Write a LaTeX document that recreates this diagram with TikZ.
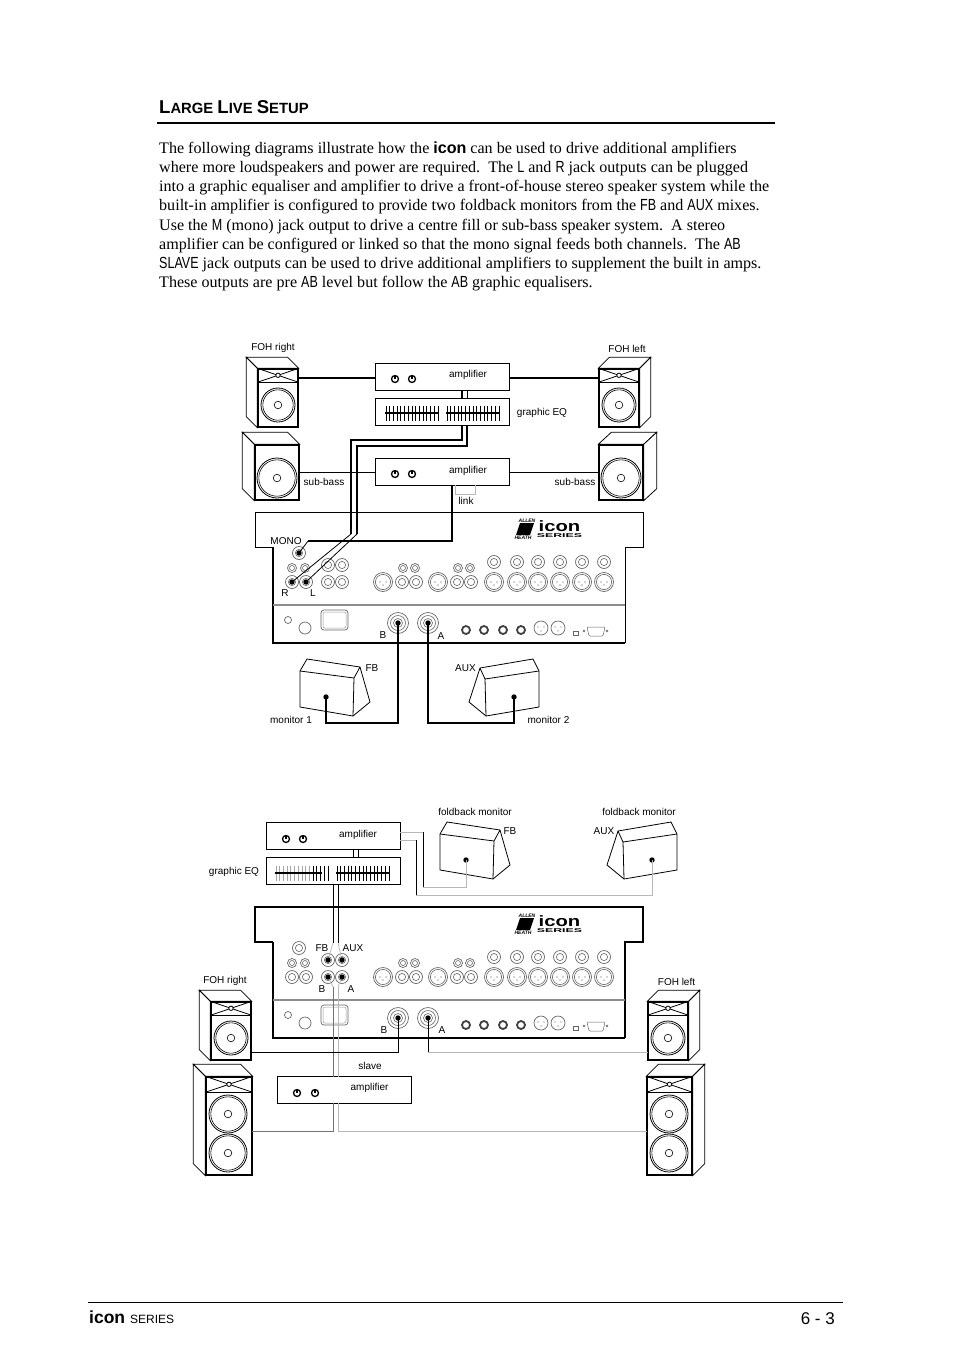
\documentclass[tikz,border=0pt]{standalone}
\usepackage{fontspec}
\setmainfont{Liberation Serif}
\setsansfont{Liberation Sans}
\newfontfamily\narrowsf[FakeStretch=0.78]{Liberation Sans}
\newfontfamily\logosf[FakeStretch=1.35]{Liberation Sans}
\newfontfamily\logowide[FakeStretch=2.2]{Liberation Sans}
\usepackage{tikz}

\tikzset{
  bodyline/.style={anchor=base west, inner sep=0pt, font=\fontsize{16.08}{19}\selectfont},
  lbl/.style={inner sep=0pt, yshift=-1pt, font=\sffamily\fontsize{10}{12}\selectfont},
  unitbox/.style={draw, fill=white, line width=0.8pt, inner sep=0pt, minimum width=134pt, minimum height=27pt},
  spkfront/.style={draw, fill=white, line width=1.4pt, inner sep=0pt},
  spkside/.style={line width=0.8pt},
  jack/.style={circle, draw=black!60, line width=0.7pt, inner sep=0pt, minimum size=#1},
  jack/.default=13pt,
  ring/.style={draw=black!60, line width=0.6pt},
  wirethick/.style={line width=1.7pt},
  wiremon/.style={line width=1.1pt},
  wirethin/.style={line width=0.8pt},
  wiregray/.style={draw=black!55, line width=0.7pt},
  wirefaint/.style={draw=black!28, line width=0.7pt},
  mixthick/.style={line width=1.3pt}
}

% cabinet: name, centre x, y, width, height, offset x, y, open side
\newcommand\cabinet[8]{
  \node[spkfront, minimum width=#4pt, minimum height=#5pt] (#1) at (#2,#3) {};
  \draw[spkside, fill=white] (#1.north west) -- ++(#6,#7) -- ([shift={(#6,#7)}]#1.north east) -- (#1.north east) -- cycle;
  \draw[spkside, fill=white] (#1.north #8) -- ++(#6,#7) -- ([shift={(#6,#7)}]#1.south #8) -- (#1.south #8) -- cycle;
  \node[spkfront, minimum width=#4pt, minimum height=#5pt] at (#2,#3) {};
}
% horn panel: cabinet name, panel height
\newcommand\horn[2]{
  \draw[spkside] (#1.north west) -- ([yshift=-#2pt]#1.north east)
    (#1.north east) -- ([yshift=-#2pt]#1.north west);
  \draw[line width=1.4pt] ([yshift=-#2pt]#1.north west) -- ([yshift=-#2pt]#1.north east);
  \draw[spkside, fill=white] ([yshift=-#2pt/2]#1.north) circle (2.2pt);
}
\newcommand\woofer[3]{
  \draw[line width=0.8pt] (#1,#2) circle (#3pt);
  \draw[line width=0.6pt] (#1,#2) circle (#3pt-1.8pt);
  \draw[line width=0.6pt] (#1,#2) circle (3.8pt);
}
\newcommand\knob[2]{
  \draw[line width=1.3pt] (#1,#2) circle (3.5pt);
  \draw[line width=1.1pt] (#1,#2) -- ++(0,-3.5);
}
% fader bank
\newcommand\faders[2]{
  \foreach \i in {0,...,14}
    \draw[line width=1pt] (#1+\i*3.72,#2-7.5) -- ++(0,15);
  \draw[line width=1.8pt] (#1-1,#2) -- ++(54,0);
}
\newcommand\dotat[1]{\fill (#1) circle (2.7pt);}

% wedge with the slope on the right
\newcommand\wedgeR[3]{
  \begin{scope}[shift={(#2,#3)}]
    \draw[line width=0.8pt, fill=white] (300,671) -- (307,659) -- (360,667)
      -- (370,702) -- (353,716) -- (300,707) -- cycle;
    \draw[line width=0.8pt] (300,671) -- (354,678) -- (353,716) (354,678) -- (360,667);
    \coordinate (#1) at (326,697);
    \dotat{#1}
  \end{scope}
}
% wedge with the slope on the left
\newcommand\wedgeL[3]{
  \begin{scope}[shift={(#2,#3)}]
    \draw[line width=0.8pt, fill=white] (480,668) -- (533,659) -- (539,671)
      -- (539,707) -- (486,716) -- (469,702) -- cycle;
    \draw[line width=0.8pt] (539,671) -- (485,679) -- (486,716) (485,679) -- (480,668);
    \coordinate (#1) at (514,697);
    \dotat{#1}
  \end{scope}
}

% rear panel of the console
\newcommand\console[3]{
  \begin{scope}[shift={(0,#2)}]
    \draw[line width=#3] (273,547) -- (255,547) -- (255,512) -- (643,512) -- (643,547) -- (625,547) -- (625,643);
    \draw[mixthick] (273,547) -- (273,643) -- (625,643);
    \draw[black!45, line width=1.6pt] (273,605) -- (625,605);
    % logo
    \fill (520,523) -- (534,523) -- (530,535) -- (516,535) -- cycle;
    \node[inner sep=0pt, font=\sffamily\bfseries\itshape\fontsize{5}{5}\selectfont] (#1allen) at (527,520.5) {ALLEN};
    \node[inner sep=0pt, font=\sffamily\bfseries\itshape\fontsize{5}{5}\selectfont] (#1heath) at (523,537.5) {HEATH};
    \node[inner sep=0pt, font=\logosf\bfseries\fontsize{15}{15}\selectfont] (#1icon) at (559.5,526.5) {icon};
    \node[inner sep=0pt, font=\logowide\bfseries\fontsize{5.6}{5}\selectfont] (#1series) at (559.5,536) {SERIES};
    % jacks
    \foreach \n/\x/\y in {mono/299/553, jR/292/582, jL/306/582, ja/328/565, jb/342/565, jc/328/582, jd/342/582,
      je/402/582, jf/416/582, jg/457/582, jh/471/582,
      ra/494/562, rb/517/562, rc/538/562, rd/560/562, re/582/562, rf/604/562} {
      \node[jack] (#1\n) at (\x,\y) {};
      \draw[ring] (\x,\y) circle (3.6pt);
    }
    \foreach \n/\x in {sa/292, sb/305, sc/403, sd/415, se/458, sf/470} {
      \node[jack=9pt] (#1\n) at (\x,568) {};
      \draw[ring] (\x,568) circle (2.5pt);
    }
    \foreach \n/\x in {xa/383, xb/438, xc/494, xd/517, xe/538, xf/560, xg/582, xh/604} {
      \node[jack=19pt] (#1\n) at (\x,582) {};
      \draw[ring] (\x,582) circle (7.6pt);
      \fill[black!70] (\x-3,582) circle (0.6pt) (\x+3,582) circle (0.6pt) (\x,585) circle (0.6pt);
    }
    % lower panel
    \node[jack=7pt] (#1pwrA) at (288,620) {};
    \node[jack=12pt] (#1pwrB) at (305,628) {};
    \node[draw=black!60, line width=0.7pt, rounded corners=3pt, inner sep=0pt, minimum width=27pt, minimum height=20pt] (#1mains) at (334.5,620) {};
    \node[draw=black!40, line width=0.5pt, rounded corners=2pt, inner sep=0pt, minimum width=23pt, minimum height=16pt] (#1mainsin) at (334.5,620) {};
    \foreach \n/\x in {spkB/398, spkA/428} {
      \node[jack=21pt] (#1\n) at (\x,623) {};
      \draw[ring] (\x,623) circle (7.5pt) (\x,623) circle (4.5pt);
    }
    \foreach \n/\x in {ta/466, tb/484, tc/503, td/521} {
      \node[circle, draw=black!75, line width=1.8pt, inner sep=0pt, minimum size=8pt] (#1\n) at (\x,630) {};
    }
    \foreach \n/\x in {da/541, db/558} {
      \node[jack=14pt] (#1\n) at (\x,628) {};
      \fill[black!60] (\x-3,627) circle (0.7pt) (\x+3,627) circle (0.7pt) (\x,631) circle (0.7pt);
    }
    \draw[black!60, line width=0.5pt] (573,631.5) rectangle (578,635);
    \draw[black!60, line width=0.5pt] (584,631) circle (1pt) (607,631) circle (1pt);
    \draw[black!60, line width=0.5pt, rounded corners=1pt] (587,627) -- (605,627) -- (603,636) -- (589,636) -- cycle;
  \end{scope}
}

\begin{document}
\begin{tikzpicture}[x=1pt, y=-1pt]
  \useasboundingbox (0,0) rectangle (954,1351);

  % heading and text
  \node[anchor=base west, inner sep=0pt, font=\sffamily\bfseries] (heading) at (159,114)
    {\fontsize{18.6}{18}\selectfont L\fontsize{14.8}{18}\selectfont ARGE \fontsize{18.6}{18}\selectfont L\fontsize{14.8}{18}\selectfont IVE \fontsize{18.6}{18}\selectfont S\fontsize{14.8}{18}\selectfont ETUP};
  \draw[line width=2pt] (157,123) -- (775,123);
  \node[bodyline] (textA) at (159,153.2) {The following diagrams illustrate how the {\sffamily\bfseries icon} can be used to drive additional amplifiers};
  \node[bodyline] (textB) at (159,172.4) {where more loudspeakers and power are required.\ \ The {\narrowsf L} and {\narrowsf R} jack outputs can be plugged};
  \node[bodyline] (textC) at (159,191.6) {into a graphic equaliser and amplifier to drive a front-of-house stereo speaker system while the};
  \node[bodyline] (textD) at (159,210.8) {built-in amplifier is configured to provide two foldback monitors from the {\narrowsf FB} and {\narrowsf AUX} mixes.};
  \node[bodyline] (textE) at (159,230) {Use the {\narrowsf M} (mono) jack output to drive a centre fill or sub-bass speaker system.\ \ A stereo};
  \node[bodyline] (textF) at (159,249.2) {amplifier can be configured or linked so that the mono signal feeds both channels.\ \ The {\narrowsf AB}};
  \node[bodyline] (textG) at (159,268.4) {{\narrowsf SLAVE} jack outputs can be used to drive additional amplifiers to supplement the built in amps.};
  \node[bodyline] (textH) at (159,287.6) {These outputs are pre {\narrowsf AB} level but follow the {\narrowsf AB} graphic equalisers.};

  % upper setup
  \cabinet{fohR}{278}{398}{40}{58}{-11}{-11}{west}
  \horn{fohR}{14}
  \woofer{278}{405}{17}
  \cabinet{fohL}{619}{398}{40}{58}{11}{-11}{east}
  \horn{fohL}{14}
  \woofer{619}{405}{17}
  \cabinet{subR}{277}{472.5}{44}{55}{-12}{-12}{west}
  \woofer{277}{478}{20}
  \cabinet{subL}{621}{472.5}{44}{55}{13}{-12}{east}
  \woofer{621}{478}{20}

  \node[unitbox] (ampA) at (442,376.5) {};
  \knob{395}{379}
  \knob{412}{379}
  \node[unitbox] (eqA) at (442,411.5) {};
  \faders{386}{413}
  \faders{447}{413}
  \node[unitbox] (ampB) at (442,471.5) {};
  \knob{395}{474}
  \knob{412}{474}

  \console{mA}{0}{0.8pt}

  \node[lbl] (lblfohR) at (273,347) {FOH right};
  \node[lbl] (lblfohL) at (627,347.5) {FOH left};
  \node[lbl] (lblampA) at (468,374) {amplifier};
  \node[lbl] (lbleqA) at (542,411.5) {graphic EQ};
  \node[lbl] (lblampB) at (468,469.5) {amplifier};
  \node[lbl] (lblsubR) at (324,481) {sub-bass};
  \node[lbl] (lblsubL) at (575,481) {sub-bass};
  \node[lbl] (lbllink) at (466,500) {link};
  \node[lbl] (lblmono) at (286,540) {MONO};
  \node[lbl] (lblR) at (285,592) {R};
  \node[lbl] (lblL) at (313,592) {L};
  \node[lbl] (lblBa) at (383,634) {B};
  \node[lbl] (lblAa) at (441,635) {A};

  \wedgeR{wedgeA}{0}{0}
  \wedgeL{wedgeB}{0}{0}
  \node[lbl] (lblfbA) at (372,667) {FB};
  \node[lbl] (lblauxA) at (465.5,667) {AUX};
  \node[lbl] (lblmonA) at (291,719) {monitor 1};
  \node[lbl] (lblmonB) at (548.5,719) {monitor 2};

  % amplifier -> speakers
  \coordinate (fohRin) at (298,378);
  \coordinate (ampAl) at (375,378);
  \coordinate (ampAr) at (509,378);
  \coordinate (fohLin) at (599,378);
  \draw[wirethick] (fohRin) -- (ampAl);
  \draw[wirethick] (ampAr) -- (fohLin);
  \coordinate (subRin) at (299,472);
  \coordinate (ampBl) at (375,472);
  \coordinate (ampBr) at (509,472);
  \coordinate (subLin) at (599,472);
  \draw[wirethin] (subRin) -- (ampBl);
  \draw[wirethin] (ampBr) -- (subLin);

  % EQ -> amplifier
  \coordinate (ampAoutR) at (462,390);
  \coordinate (ampAoutL) at (467,390);
  \coordinate (eqAinR) at (462,398);
  \coordinate (eqAinL) at (467,398);
  \draw[wirethick] (ampAoutR) -- (eqAinR);
  \draw[wirethin] (ampAoutL) -- (eqAinL);

  % console -> EQ
  \coordinate (eqAoutR) at (462,425);
  \coordinate (eqAoutL) at (467,425);
  \coordinate (viaR) at (351,534);
  \coordinate (viaL) at (357,534);
  \draw[wirethick] (eqAoutR) -- ++(0,15) -| (viaR);
  \draw[wirethick] (eqAoutL) -- ++(0,21) -| (viaL);
  \draw[wirethin] (viaR) -- (mAjR.center);
  \draw[wirethin] (viaL) -- (mAjL.center);
  \dotat{mAjR.center}
  \dotat{mAjL.center}

  % console -> sub amplifier
  \coordinate (ampBin) at (452,485);
  \coordinate (viaM) at (308,541);
  \draw[wirethick] (ampBin) |- (viaM);
  \draw[wirethin] (viaM) -- (mAmono.center);
  \dotat{mAmono.center}

  % link
  \coordinate (linkA) at (455,485);
  \coordinate (linkB) at (475,494);
  \coordinate (linkC) at (475,485);
  \draw[wirefaint] (linkA) |- (linkB) -- (linkC);

  % monitors
  \coordinate (wedgeAlow) at (398,723);
  \coordinate (wedgeBlow) at (428,723);
  \draw[wiremon] (wedgeA) |- (wedgeAlow) -- (mAspkB.center);
  \draw[wiremon] (wedgeB) |- (wedgeBlow) -- (mAspkA.center);
  \dotat{mAspkB.center}
  \dotat{mAspkA.center}

  % lower setup
  \cabinet{fohRb}{231}{1031}{40}{58}{-11}{-11}{west}
  \horn{fohRb}{14}
  \woofer{231}{1038}{17}
  \cabinet{fohLb}{668}{1031}{40}{58}{11}{-11}{east}
  \horn{fohLb}{14}
  \woofer{668}{1038}{17}
  \cabinet{bigR}{229}{1126}{46}{98}{-12}{-12}{west}
  \horn{bigR}{16}
  \woofer{228}{1114}{19}
  \woofer{228}{1153}{19}
  \cabinet{bigL}{669.5}{1126}{45}{98}{12}{-12}{east}
  \horn{bigL}{16}
  \woofer{669}{1114}{19}
  \woofer{669}{1153}{19}

  \node[unitbox] (ampC) at (333,836) {};
  \knob{286}{839}
  \knob{303}{839}
  \node[unitbox] (eqB) at (333,871) {};
  \foreach \i in {0,...,9}
    \draw[black!35, line width=1pt] (276+\i*3.72,865.5) -- ++(0,15);
  \foreach \i in {10,...,14}
    \draw[line width=1pt] (276+\i*3.72,865.5) -- ++(0,15);
  \draw[line width=1.8pt] (275,873) -- (322,873);
  \faders{337}{873}
  \node[unitbox] (ampD) at (344.5,1090) {};
  \knob{297}{1093}
  \knob{315}{1093}

  \console{mB}{395}{1.1pt}

  \wedgeR{wedgeC}{140}{163}
  \wedgeL{wedgeD}{138}{163}

  \node[lbl] (lblampC) at (358,834) {amplifier};
  \node[lbl] (lbleqB) at (234,871) {graphic EQ};
  \node[lbl] (lblfoldA) at (475,811) {foldback monitor};
  \node[lbl] (lblfoldB) at (639,811) {foldback monitor};
  \node[lbl] (lblfbB) at (510,830) {FB};
  \node[lbl] (lblauxB) at (604,830) {AUX};
  \node[lbl] (lblfbC) at (322,947) {FB};
  \node[lbl] (lblauxC) at (353,947) {AUX};
  \node[lbl] (lblBc) at (322,988) {B};
  \node[lbl] (lblAc) at (351,988) {A};
  \node[lbl] (lblBd) at (384,1029) {B};
  \node[lbl] (lblAd) at (442,1029) {A};
  \node[lbl] (lblfohRb) at (225,980) {FOH right};
  \node[lbl] (lblfohLb) at (676.5,980.5) {FOH left};
  \node[lbl] (lblslave) at (370,1065) {slave};
  \node[lbl] (lblampD) at (369.5,1087) {amplifier};

  % EQ -> amplifier
  \coordinate (ampCoutA) at (353,849);
  \coordinate (ampCoutB) at (358,849);
  \coordinate (eqBinA) at (353,858);
  \coordinate (eqBinB) at (358,858);
  \draw[wirethin] (ampCoutA) -- (eqBinA);
  \draw[wirethin] (ampCoutB) -- (eqBinB);

  % FB, AUX -> EQ
  \coordinate (eqBoutA) at (333,884);
  \coordinate (eqBoutB) at (338,884);
  \coordinate (viaFB) at (333,943);
  \coordinate (viaAUX) at (338,943);
  \draw[wirethin] (eqBoutA) -- (viaFB);
  \draw[wirethin] (eqBoutB) -- (viaAUX);
  \draw[wirefaint] (viaFB) -- (mBja.center);
  \draw[wirefaint] (viaAUX) -- (mBjb.center);
  \dotat{mBja.center}
  \dotat{mBjb.center}

  % amplifier -> foldback monitors
  \coordinate (ampCrA) at (400,832);
  \coordinate (ampCrB) at (400,840);
  \coordinate (bendA) at (423,832);
  \coordinate (bendAb) at (423,887);
  \coordinate (bendB) at (416,840);
  \coordinate (bendBb) at (416,895);
  \draw[wirefaint] (ampCrA) -- (bendA);
  \draw[wirethin] (bendA) -- (bendAb);
  \draw[wirefaint] (bendAb) -| (wedgeC);
  \draw[wirefaint] (ampCrB) -- (bendB);
  \draw[wirethin] (bendB) -- (bendBb);
  \draw[wirefaint] (bendBb) -| (wedgeD);

  % slave out
  \coordinate (slaveB) at (333,987);
  \coordinate (slaveA) at (338,987);
  \coordinate (ampDtopB) at (333,1077);
  \coordinate (ampDtopA) at (338,1077);
  \coordinate (ampDlowB) at (333,1103);
  \coordinate (ampDlowA) at (338,1103);
  \coordinate (bigRin) at (252,1131);
  \coordinate (bigLin) at (647,1131);
  \draw[wirefaint] (mBjc.center) -- (slaveB);
  \draw[wirefaint] (mBjd.center) -- (slaveA);
  \draw[wiregray] (slaveB) -- (ampDtopB);
  \draw[wirefaint] (slaveA) -- (ampDtopA);
  \draw[wiregray] (ampDlowB) |- (bigRin);
  \draw[wirefaint] (ampDlowA) |- (bigLin);
  \dotat{mBjc.center}
  \dotat{mBjd.center}

  % speakon -> FOH
  \coordinate (fohRbin) at (251,1052);
  \coordinate (fohLbin) at (648,1052);
  \coordinate (spkAlow) at (428,1052);
  \draw[wirethin] (mBspkB.center) |- (fohRbin);
  \draw[wirethin] (mBspkA.center) -- (spkAlow);
  \draw[wirefaint] (spkAlow) -- (fohLbin);
  \dotat{mBspkB.center}
  \dotat{mBspkA.center}

  % footer
  \draw[line width=1pt] (88,1302) -- (843,1302);
  \node[anchor=base west, inner sep=0pt, font=\sffamily\bfseries\fontsize{17.5}{18}\selectfont] (footicon) at (89,1323) {icon};
  \node[anchor=base west, inner sep=0pt, font=\sffamily\fontsize{12}{14}\selectfont] (footseries) at (130,1323) {SERIES};
  \node[anchor=base east, inner sep=0pt, font=\sffamily\fontsize{17}{19}\selectfont] (footpage) at (835,1324) {6 - 3};
\end{tikzpicture}
\end{document}
